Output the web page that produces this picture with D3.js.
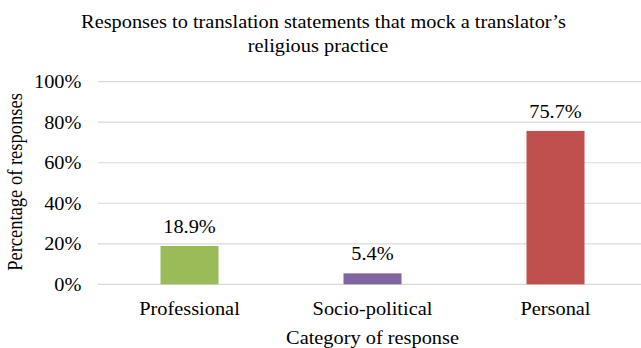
<!DOCTYPE html>
<html>
<head>
<meta charset="utf-8">
<script src="https://cdn.jsdelivr.net/npm/d3@7"></script>
<style>
  html, body { margin: 0; padding: 0; background: #fff; }
</style>
</head>
<body>
<script>
// Share of responses by category
const categories = ["Professional", "Socio-political", "Personal"];
const values = [18.9, 5.4, 75.7];
const colors = ["#9BBB59", "#8064A2", "#C0504D"];
const yTicks = [0, 20, 40, 60, 80, 100];
const titleLines = ["Responses to translation statements that mock a translator\u2019s", "religious practice"];

const width = 641, height = 348;
const plot = { left: 98, right: 647, top: 81.7, bottom: 284.3 };
const FONT = "'Liberation Serif', 'Times New Roman', Times, serif";
const FS = 18.5;
const SX = 1.1; // text is drawn slightly wide

const svg = d3.select("body").append("svg")
  .attr("width", width).attr("height", height)
  .attr("font-family", FONT);

const x = d3.scaleBand()
  .domain(categories)
  .range([plot.left, plot.right])
  .paddingInner(0.683).paddingOuter(0.3415);

const y = d3.scaleLinear()
  .domain([0, 100])
  .range([plot.bottom, plot.top]);

// horizontal gridlines
svg.append("g").selectAll("line")
  .data(yTicks)
  .join("line")
  .attr("x1", plot.left).attr("x2", width)
  .attr("y1", d => y(d)).attr("y2", d => y(d))
  .attr("stroke", "#D9D9D9").attr("stroke-width", 1.2);

// y tick labels
const yAxis = d3.axisLeft(y).tickValues(yTicks).tickFormat(d => d + "%").tickSize(0).tickPadding(0);
const gy = svg.append("g").attr("transform", "translate(81.5,0)").call(yAxis)
  .attr("font-family", FONT).attr("font-size", FS);
gy.select(".domain").remove();
gy.selectAll("text").attr("fill", "#000").attr("dy", "0.33em")
  .attr("transform", `scale(${SX},1)`);

// bars
svg.append("g").selectAll("rect")
  .data(values)
  .join("rect")
  .attr("x", (d, i) => x(categories[i]))
  .attr("width", x.bandwidth())
  .attr("y", d => y(d))
  .attr("height", d => y(0) - y(d))
  .attr("fill", (d, i) => colors[i]);

// value labels
svg.append("g").selectAll("text")
  .data(values)
  .join("text")
  .attr("transform", (d, i) =>
    `translate(${x(categories[i]) + x.bandwidth() / 2},${y(d) - 13}) scale(${SX},1)`)
  .attr("text-anchor", "middle")
  .attr("font-size", FS)
  .text(d => d.toFixed(1) + "%");

// x category labels
const xAxis = d3.axisBottom(x).tickSize(0).tickPadding(0);
const gx = svg.append("g").attr("transform", `translate(0,${y(0)})`).call(xAxis)
  .attr("font-family", FONT).attr("font-size", FS);
gx.select(".domain").remove();
gx.selectAll("text").attr("dy", null).attr("y", 0).attr("fill", "#000")
  .attr("transform", `translate(0,30.5) scale(${SX},1)`);

// axis titles
svg.append("text")
  .attr("transform", `translate(${(plot.left + plot.right) / 2},344) scale(${SX},1)`)
  .attr("text-anchor", "middle")
  .attr("font-size", FS)
  .text("Category of response");

svg.append("text")
  .attr("transform", `translate(22,182) scale(${SX},1) rotate(-90)`)
  .attr("text-anchor", "middle")
  .attr("font-size", FS)
  .text("Percentage of responses");

// title
const titleX = [323.5, 318];
svg.append("g").selectAll("text")
  .data(titleLines)
  .join("text")
  .attr("transform", (d, i) => `translate(${titleX[i]},${28 + i * 24}) scale(${SX},1)`)
  .attr("text-anchor", "middle")
  .attr("font-size", FS)
  .text(d => d);
</script>
</body>
</html>
